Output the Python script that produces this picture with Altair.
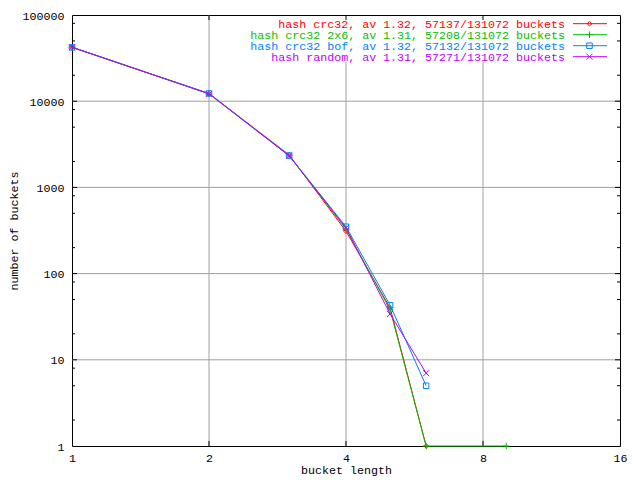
import altair as alt
import pandas as pd

FONT = "Liberation Mono"
FS = 11.67

# ---- data ----
len_a = [1, 2, 3, 4, 5, 6]
crc32 = [42156, 12250, 2380, 310, 40, 1]
len_b = [1, 2, 3, 4, 5, 6, 9]
crc32_2x6 = [42308, 12200, 2330, 330, 38, 1, 1]
len_c = [1, 2, 3, 4, 5, 6]
crc32_bof = [42094, 12300, 2340, 350, 43, 5]
len_d = [1, 2, 3, 4, 5, 6]
hash_random = [42385, 12175, 2330, 340, 34, 7]

labels = [
    "hash crc32, av 1.32, 57137/131072 buckets",
    "hash crc32 2x6, av 1.31, 57208/131072 buckets",
    "hash crc32 bof, av 1.32, 57132/131072 buckets",
    "hash random, av 1.31, 57271/131072 buckets",
]
colors = ["#ff0000", "#00c000", "#0080ff", "#c000ff"]
shapes = ["diamond", "M-1,0L1,0M0,-1L0,1", "square", "M-1,-1L1,1M-1,1L1,-1"]
sizes = [22, 42, 30, 36]

x_ticks = [1, 2, 4, 8, 16]
y_ticks = [1, 10, 100, 1000, 10000, 100000]
x_grid_full = [2]
x_grid_below_key = [4, 8]
x_grid = [2, 4, 8]
y_grid = [10, 100, 1000, 10000]
y_minor = [2, 5, 8, 20, 50, 80, 200, 500, 800, 2000, 5000, 8000, 20000, 50000, 80000]

W, H = 548, 431

xs = alt.Scale(type="log", base=2, domain=[1, 16], nice=False)
ys = alt.Scale(type="log", base=10, domain=[1, 100000], nice=False)

x_axis = alt.Axis(
    values=x_ticks, format="d", grid=False, domain=False, ticks=False, tickSize=0,
    labelPadding=6, labelFont=FONT, labelFontSize=FS, labelColor="black",
    labelFlush=False, labelOverlap=False,
    title="bucket length", titleFont=FONT, titleFontSize=FS, titleFontWeight="normal",
    titleColor="black", titleY=27, titleBaseline="alphabetic")
y_axis = alt.Axis(
    values=y_ticks, format="d", grid=False, domain=False, ticks=False, tickSize=0,
    labelPadding=8, labelFont=FONT, labelFontSize=FS, labelColor="black",
    labelFlush=False, labelOverlap=False,
    title="number of buckets", titleFont=FONT, titleFontSize=FS, titleFontWeight="normal",
    titleColor="black", titleX=-55, titleY=H / 2, titleBaseline="alphabetic")


def X(f):
    return alt.X(f, scale=xs, axis=x_axis, title="bucket length")


def Y(f):
    return alt.Y(f, scale=ys, axis=y_axis, title="number of buckets")


layers = []

# axes carrier (invisible points spanning the domain)
axis_df = pd.DataFrame({"x": [1, 16], "y": [1, 100000]})
layers.append(alt.Chart(axis_df).mark_point(opacity=0).encode(x=X("x:Q"), y=Y("y:Q")))

# grid (vertical lines under the key stop below it, as gnuplot's opaque key does)
layers.append(
    alt.Chart(pd.DataFrame({"v": x_grid_full})).mark_rule(color="#a0a0a0", strokeWidth=1)
    .encode(x=X("v:Q"))
)
layers.append(
    alt.Chart(pd.DataFrame({"v": x_grid_below_key})).mark_rule(color="#a0a0a0", strokeWidth=1)
    .encode(x=X("v:Q"), y=alt.value(47), y2=alt.value(H))
)
layers.append(
    alt.Chart(pd.DataFrame({"v": y_grid})).mark_rule(color="#a0a0a0", strokeWidth=1)
    .encode(y=Y("v:Q"))
)

# inward ticks (mirrored)
xt = pd.DataFrame({"v": x_grid})
for y0, y1 in [(H, H - 5), (0, 5)]:
    layers.append(
        alt.Chart(xt).mark_rule(color="black").encode(
            x=X("v:Q"), y=alt.value(y0), y2=alt.value(y1))
    )
yt = pd.DataFrame({"v": y_grid})
ym = pd.DataFrame({"v": y_minor})
for x0, x1 in [(0, 5), (W, W - 5)]:
    layers.append(
        alt.Chart(yt).mark_rule(color="black").encode(
            y=Y("v:Q"), x=alt.value(x0), x2=alt.value(x1))
    )
for x0, x1 in [(0, 3), (W, W - 3)]:
    layers.append(
        alt.Chart(ym).mark_rule(color="black").encode(
            y=Y("v:Q"), x=alt.value(x0), x2=alt.value(x1))
    )

# series
series = [(len_a, crc32), (len_b, crc32_2x6), (len_c, crc32_bof), (len_d, hash_random)]
for i, (xv, yv) in enumerate(series):
    df = pd.DataFrame({"x": xv, "y": yv})
    layers.append(alt.Chart(df).mark_line(color=colors[i], strokeWidth=1)
                  .encode(x=X("x:Q"), y=Y("y:Q")))
    layers.append(
        alt.Chart(df).mark_point(shape=shapes[i], color=colors[i], size=sizes[i],
                                 filled=False, strokeWidth=1, opacity=1)
        .encode(x=X("x:Q"), y=Y("y:Q"))
    )

# legend (gnuplot style: right-justified text, sample line with marker)
for i in range(4):
    ry = 8.7 + 11 * i
    ldf = pd.DataFrame({"t": [labels[i]]})
    layers.append(
        alt.Chart(ldf).mark_text(align="right", baseline="middle", font=FONT, fontSize=FS,
                                 color=colors[i]).encode(
            text="t:N", x=alt.value(493), y=alt.value(ry))
    )
    layers.append(
        alt.Chart(ldf).mark_rule(color=colors[i], strokeWidth=1).encode(
            x=alt.value(501), x2=alt.value(535), y=alt.value(ry))
    )
    layers.append(
        alt.Chart(ldf).mark_point(shape=shapes[i], color=colors[i], size=sizes[i],
                                  filled=False, strokeWidth=1, opacity=1).encode(
            x=alt.value(517.5), y=alt.value(ry))
    )

chart = alt.layer(*layers).properties(
    width=W, height=H,
    padding={"left": 64, "top": 7, "right": 12, "bottom": 30},
    autosize=alt.AutoSizeParams(type="none"),
    background="white",
).configure_view(stroke="black", strokeWidth=1)

chart.save("out.html", embed_options={"renderer": "svg", "actions": False})
